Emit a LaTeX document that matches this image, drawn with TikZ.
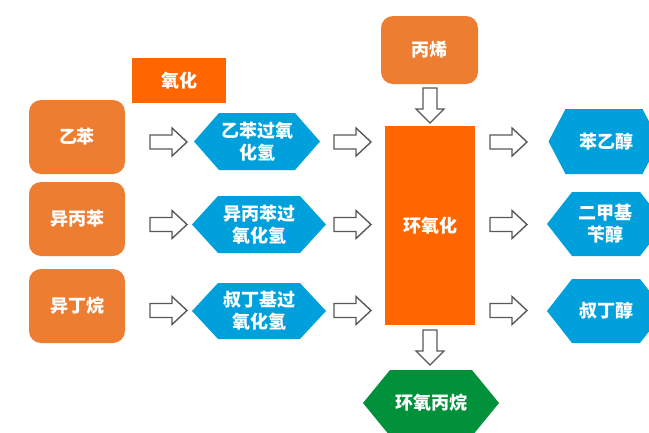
\documentclass[tikz,border=0pt]{standalone}
\usepackage{fontspec}
\newfontfamily\cjk{Noto Sans CJK SC}
\usetikzlibrary{calc}
\definecolor{boxorange}{HTML}{ED7D31}
\definecolor{deeporange}{HTML}{FF6600}
\definecolor{hexblue}{HTML}{00A0DC}
\definecolor{hexgreen}{HTML}{00913A}
\definecolor{arrowgray}{HTML}{595959}
\tikzset{
  lbl/.style={text=white,font=\cjk\bfseries\fontsize{18}{22}\selectfont,align=center,inner sep=0pt},
  rawbox/.style={fill=boxorange,rounded corners=12pt},
  blockarrow/.style={draw=arrowgray,fill=white,line width=1.4pt,line join=miter},
  pics/rarrow/.style={code={\path[blockarrow] (0,-7)--(22,-7)--(22,-14)--(37,0)--(22,14)--(22,7)--(0,7)--cycle;}},
  pics/darrow/.style={code={\path[blockarrow] (-7,0)--(-7,21)--(-14,21)--(0,35)--(14,21)--(7,21)--(7,0)--cycle;}}
}
% hexagon: #1 color, #2 cx, #3 cy, #4 half flat, #5 slope, #6 half height
\newcommand\myhex[6]{\fill[#1] ({#2-#4-#5},#3)--({#2-#4},{#3-#6})--({#2+#4},{#3-#6})--({#2+#4+#5},#3)--({#2+#4},{#3+#6})--({#2-#4},{#3+#6})--cycle;}
\begin{document}
\begin{tikzpicture}[x=1pt,y=-1pt]
\useasboundingbox (0,0) rectangle (649,432);
% raw material boxes
\fill[rawbox] (29,100) rectangle (125,174);
\node[lbl] (eb) at (77,137) {乙苯};
\fill[rawbox] (29,182) rectangle (125,256);
\node[lbl] (cu) at (77,219) {异丙苯};
\fill[rawbox] (29,269) rectangle (125,343);
\node[lbl] (ib) at (77,306) {异丁烷};
\fill[rawbox] (381,16) rectangle (478,84);
\node[lbl] (pr) at (429.5,50) {丙烯};
% oxidation label
\fill[deeporange] (132,58) rectangle (226,103);
\node[lbl] (ox) at (179,80.5) {氧化};
% hydroperoxide hexagons
\myhex{hexblue}{257}{141.5}{38}{25}{28.5}
\node[lbl] (h1) at (257,141.5) {乙苯过氧\\化氢};
\myhex{hexblue}{259}{224.5}{41}{26}{28.5}
\node[lbl] (h2) at (259,224.5) {异丙苯过\\氧化氢};
\myhex{hexblue}{259}{311}{41}{26}{28}
\node[lbl] (h3) at (259,311) {叔丁基过\\氧化氢};
% epoxidation
\fill[deeporange] (385,126) rectangle (475,325);
\node[lbl] (ep) at (430,226) {环氧化};
% products
\myhex{hexblue}{604}{141.5}{38.5}{17}{32.5}
\node[lbl] (p1) at (606,141.5) {苯乙醇};
\myhex{hexblue}{606}{224}{34}{25}{32}
\node[lbl] (p2) at (605,224) {二甲基\\苄醇};
\myhex{hexblue}{606}{311}{34}{25}{32}
\node[lbl] (p3) at (606,311) {叔丁醇};
\myhex{hexgreen}{431}{403}{41}{27}{33}
\node[lbl] (po) at (431,403) {环氧丙烷};
% arrows
\foreach \y in {142,224.5,310.5}{
  \pic at (150,\y) {rarrow};
  \pic at (334,\y) {rarrow};
  \pic at (490,\y) {rarrow};
}
\pic at (430,88) {darrow};
\pic at (430,330) {darrow};
\end{tikzpicture}
\end{document}
